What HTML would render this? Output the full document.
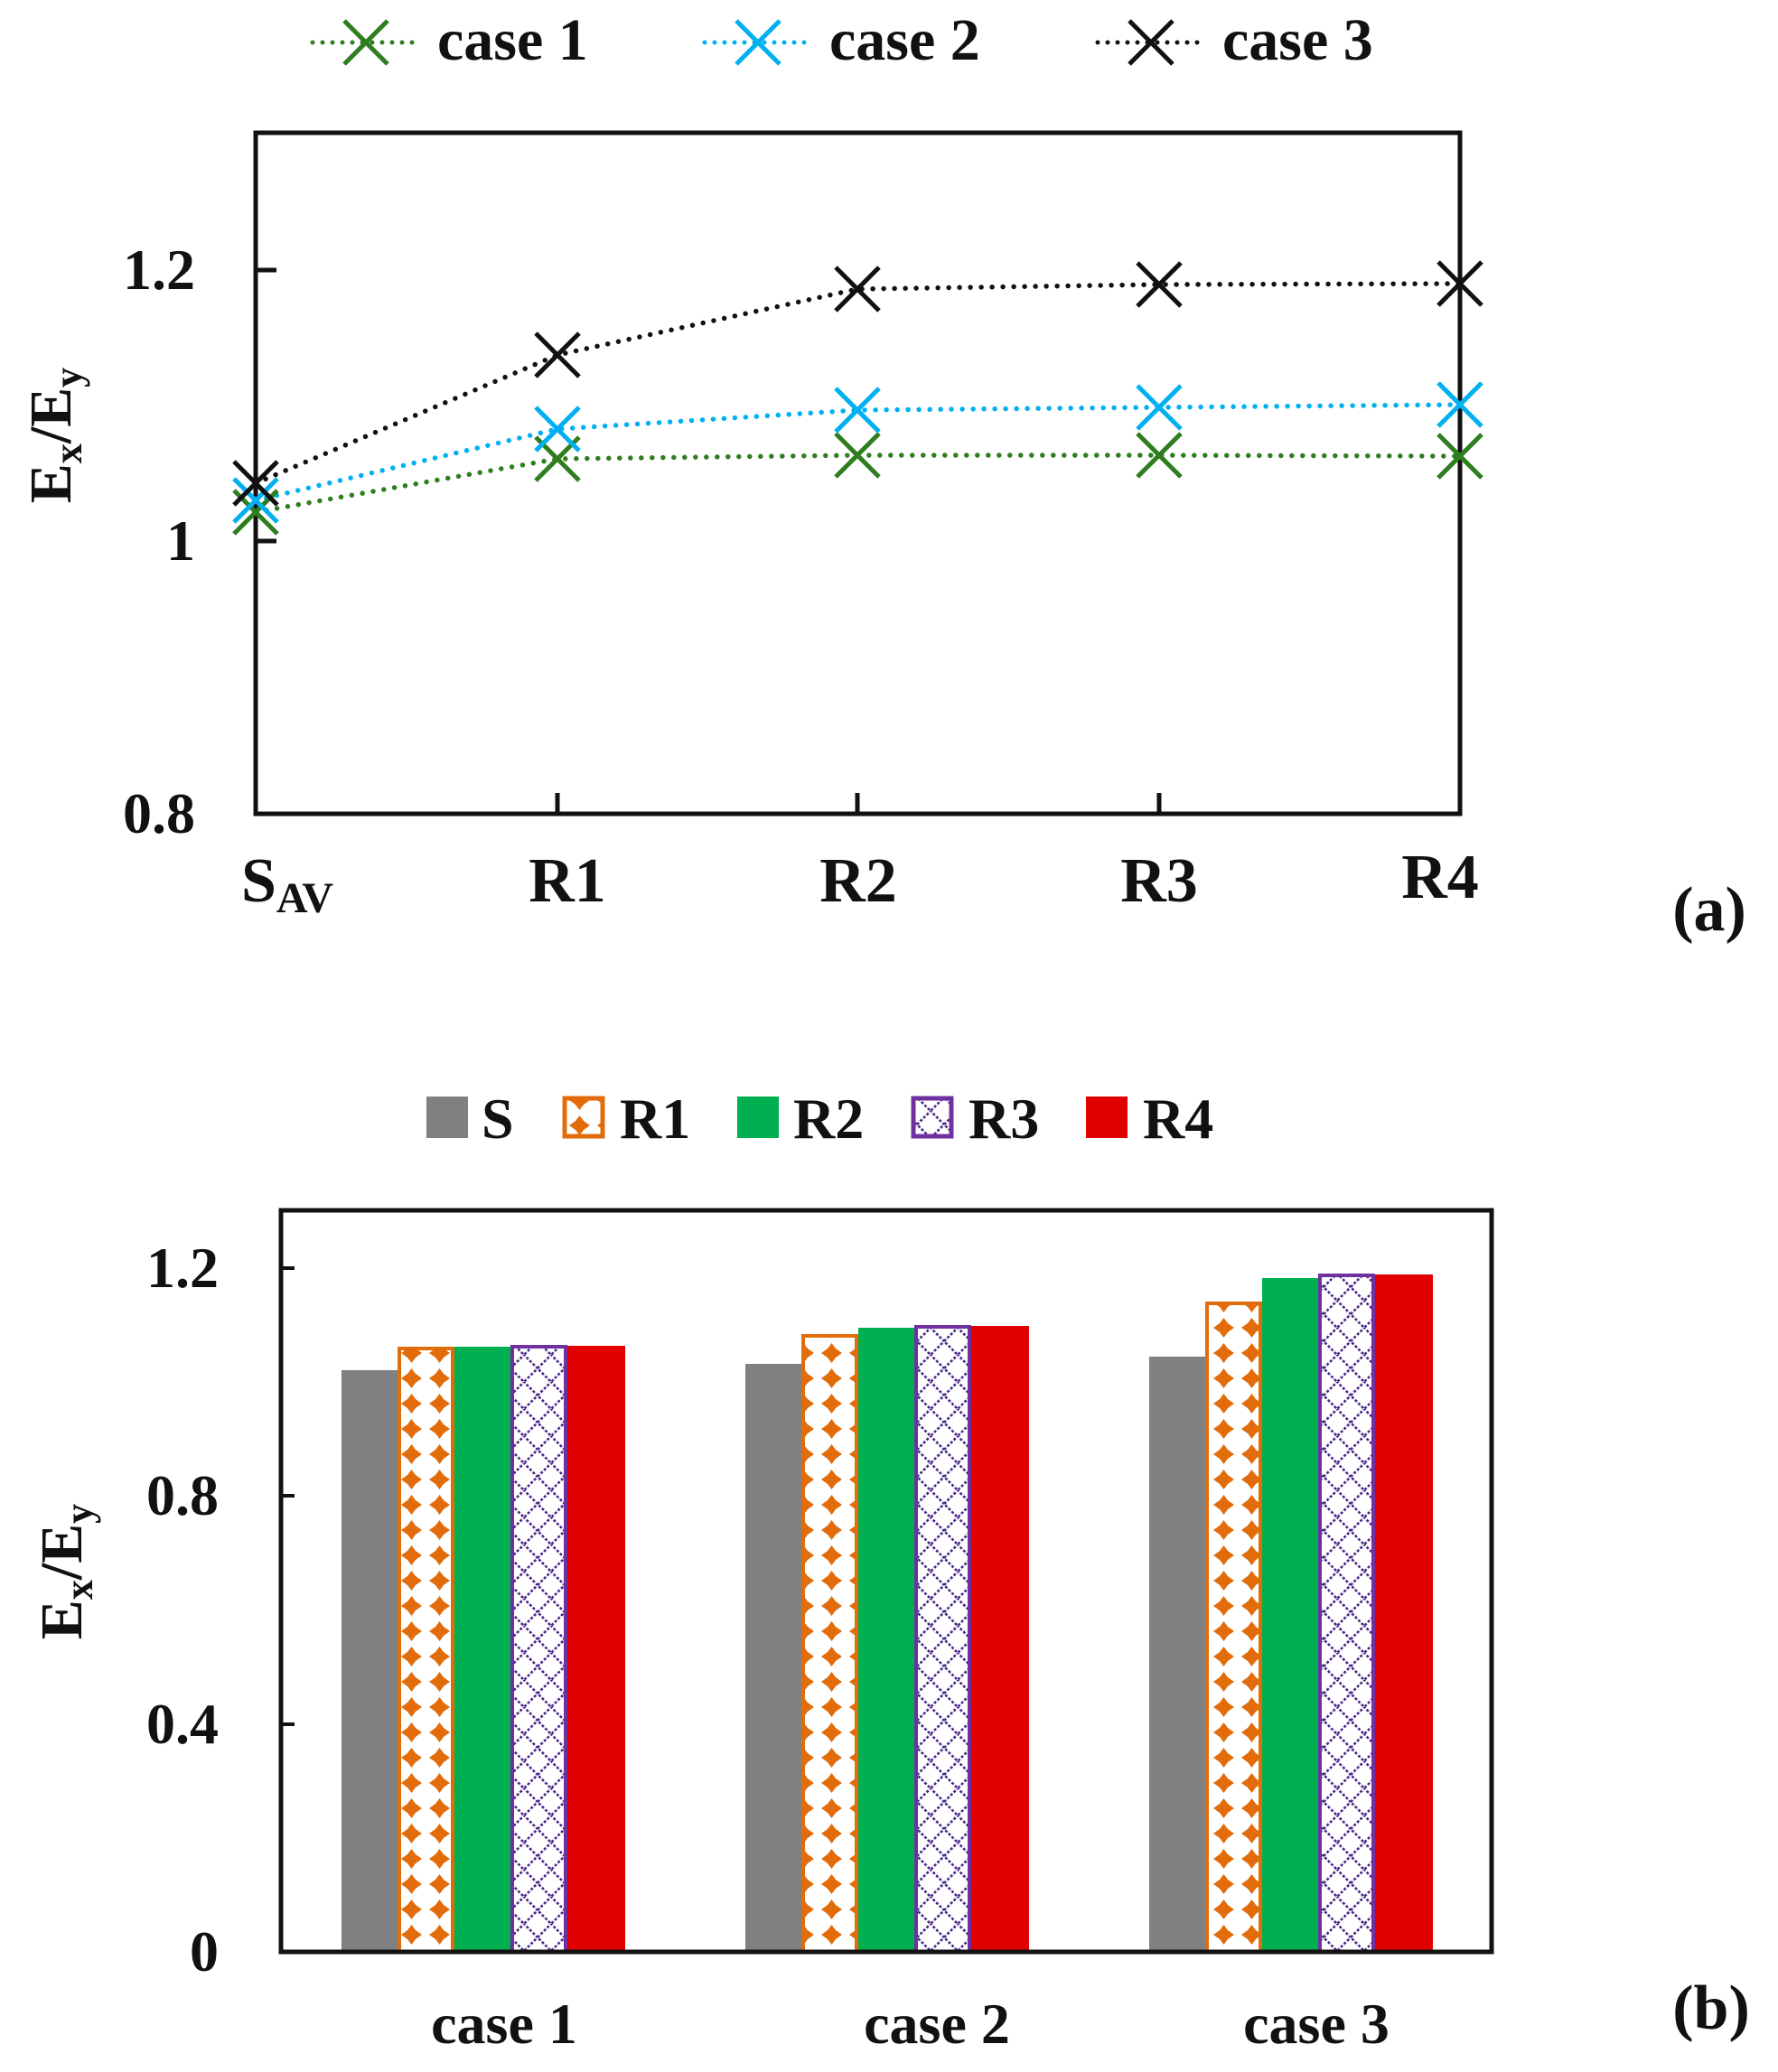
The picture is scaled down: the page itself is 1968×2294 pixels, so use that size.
<!DOCTYPE html>
<html><head><meta charset="utf-8"><style>
html,body{margin:0;padding:0;background:#fff;}
svg{display:block;}
text{font-family:"Liberation Serif","DejaVu Serif",serif;font-weight:bold;fill:#111;}
</style></head><body>
<svg width="1968" height="2294" viewBox="0 0 1968 2294" xmlns="http://www.w3.org/2000/svg">
<defs>
<pattern id="dots" x="440" y="0" width="31" height="28" patternUnits="userSpaceOnUse">
<rect width="31" height="28" fill="#fff"/>
<path d="M15.5 3 L20 9 L27 14 L20 19 L15.5 25 L11 19 L4 14 L11 9 Z" fill="#e36c0a"/>
</pattern>
<pattern id="lat" x="565" y="0" width="30" height="30" patternUnits="userSpaceOnUse">
<rect width="30" height="30" fill="#fff"/>
<path d="M0 15 L15 0 L30 15 L15 30 Z" fill="none" stroke="#4b2a8a" stroke-width="2.6" stroke-dasharray="3 2"/>
</pattern>
<g id="xm"><path d="M-24 -24 L24 24 M-24 24 L24 -24" stroke-width="5" fill="none"/></g>
</defs>

<!-- ===== Chart (a) ===== -->
<g stroke-dasharray="0 11" stroke-linecap="round" stroke-width="5" fill="none">
<line x1="346" y1="47" x2="464" y2="47" stroke="#2e7d1e"/>
<line x1="780" y1="47" x2="898" y2="47" stroke="#00b0f0"/>
<line x1="1215" y1="47" x2="1333" y2="47" stroke="#111"/>
</g>
<use href="#xm" x="405" y="47" stroke="#2e7d1e"/>
<use href="#xm" x="839" y="47" stroke="#00b0f0"/>
<use href="#xm" x="1274" y="47" stroke="#111"/>
<text x="484" y="66" font-size="66">case 1</text>
<text x="918" y="66" font-size="66">case 2</text>
<text x="1353" y="66" font-size="66">case 3</text>

<rect x="283" y="147" width="1333" height="754" fill="none" stroke="#111" stroke-width="5"/>
<g stroke="#111" stroke-width="5">
<line x1="283" y1="299" x2="306" y2="299"/>
<line x1="283" y1="599" x2="306" y2="599"/>
<line x1="617" y1="901" x2="617" y2="878"/>
<line x1="949" y1="901" x2="949" y2="878"/>
<line x1="1283" y1="901" x2="1283" y2="878"/>
</g>
<g font-size="64" text-anchor="end">
<text x="216" y="320">1.2</text>
<text x="216" y="620">1</text>
<text x="216" y="922">0.8</text>
</g>
<text transform="translate(78,482) rotate(-90)" font-size="66" text-anchor="middle">E<tspan font-size="44" dy="12">x</tspan><tspan dy="-12">/E</tspan><tspan font-size="44" dy="12">y</tspan></text>
<g font-size="70" text-anchor="middle">
<text x="318" y="998">S<tspan font-size="48" dy="12">AV</tspan></text>
<text x="628" y="998">R1</text>
<text x="950" y="998">R2</text>
<text x="1283" y="998">R3</text>
<text x="1594" y="994">R4</text>
</g>
<text x="1892" y="1030" font-size="70" text-anchor="middle">(a)</text>

<g fill="none" stroke-width="5.5" stroke-dasharray="0 12" stroke-linecap="round">
<polyline points="283,567 617,508 949,504 1283,504 1616,505" stroke="#2e7d1e"/>
<polyline points="283,554 617,475 949,454 1283,451 1616,448" stroke="#00b0f0"/>
<polyline points="283,535 617,393 949,320 1283,315 1616,314" stroke="#111"/>
</g>
<g stroke="#2e7d1e">
<use href="#xm" x="283" y="567"/><use href="#xm" x="617" y="508"/><use href="#xm" x="949" y="504"/><use href="#xm" x="1283" y="504"/><use href="#xm" x="1616" y="505"/>
</g>
<g stroke="#00b0f0">
<use href="#xm" x="283" y="554"/><use href="#xm" x="617" y="475"/><use href="#xm" x="949" y="454"/><use href="#xm" x="1283" y="451"/><use href="#xm" x="1616" y="448"/>
</g>
<g stroke="#111">
<use href="#xm" x="283" y="535"/><use href="#xm" x="617" y="393"/><use href="#xm" x="949" y="320"/><use href="#xm" x="1283" y="315"/><use href="#xm" x="1616" y="314"/>
</g>

<!-- ===== Chart (b) ===== -->
<rect x="472" y="1214" width="46" height="46" fill="#808080"/>
<text x="533" y="1260" font-size="64">S</text>
<rect x="625" y="1216" width="42" height="42" fill="url(#dots)" stroke="#e36c0a" stroke-width="5"/>
<text x="686" y="1260" font-size="64">R1</text>
<rect x="816" y="1214" width="46" height="46" fill="#00b050"/>
<text x="878" y="1260" font-size="64">R2</text>
<rect x="1011" y="1216" width="42" height="42" fill="url(#lat)" stroke="#7030a0" stroke-width="5"/>
<text x="1072" y="1260" font-size="64">R3</text>
<rect x="1202" y="1214" width="46" height="46" fill="#e00000"/>
<text x="1265" y="1260" font-size="64">R4</text>

<rect x="378" y="1517" width="62" height="644" fill="#808080"/>
<rect x="442" y="1493" width="59" height="668" fill="url(#dots)" stroke="#e36c0a" stroke-width="4"/>
<rect x="503" y="1491" width="62" height="670" fill="#00b050"/>
<rect x="567" y="1491" width="59" height="670" fill="url(#lat)" stroke="#7030a0" stroke-width="4"/>
<rect x="628" y="1490" width="64" height="671" fill="#e00000"/>
<rect x="825" y="1510" width="62" height="651" fill="#808080"/>
<rect x="889" y="1479" width="59" height="682" fill="url(#dots)" stroke="#e36c0a" stroke-width="4"/>
<rect x="950" y="1470" width="62" height="691" fill="#00b050"/>
<rect x="1014" y="1469" width="59" height="692" fill="url(#lat)" stroke="#7030a0" stroke-width="4"/>
<rect x="1075" y="1468" width="64" height="693" fill="#e00000"/>
<rect x="1272" y="1502" width="62" height="659" fill="#808080"/>
<rect x="1336" y="1443" width="59" height="718" fill="url(#dots)" stroke="#e36c0a" stroke-width="4"/>
<rect x="1397" y="1415" width="62" height="746" fill="#00b050"/>
<rect x="1461" y="1412" width="59" height="749" fill="url(#lat)" stroke="#7030a0" stroke-width="4"/>
<rect x="1522" y="1411" width="64" height="750" fill="#e00000"/>

<rect x="311" y="1340" width="1340" height="821" fill="none" stroke="#111" stroke-width="5"/>
<g stroke="#111" stroke-width="4">
<line x1="311" y1="1404" x2="326" y2="1404"/>
<line x1="311" y1="1656" x2="326" y2="1656"/>
<line x1="311" y1="1909" x2="326" y2="1909"/>
</g>
<g font-size="64" text-anchor="end">
<text x="242" y="1425">1.2</text>
<text x="242" y="1677">0.8</text>
<text x="242" y="1930">0.4</text>
<text x="242" y="2182">0</text>
</g>
<text transform="translate(90,1740) rotate(-90)" font-size="66" text-anchor="middle">E<tspan font-size="44" dy="12">x</tspan><tspan dy="-12">/E</tspan><tspan font-size="44" dy="12">y</tspan></text>
<g font-size="64" text-anchor="middle">
<text x="558" y="2262">case 1</text>
<text x="1037" y="2262">case 2</text>
<text x="1457" y="2262">case 3</text>
</g>
<text x="1894" y="2246" font-size="70" text-anchor="middle">(b)</text>
</svg>
</body></html>
